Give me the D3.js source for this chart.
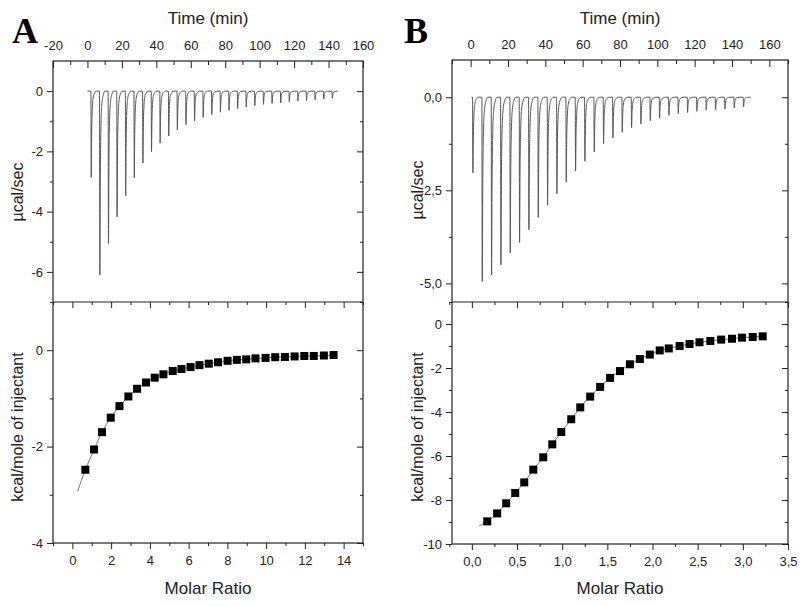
<!DOCTYPE html>
<html>
<head>
<meta charset="utf-8">
<script src="https://cdn.jsdelivr.net/npm/d3@7"></script>
<style>
  body { margin: 0; background: #fff; }
  svg text { font-family: Arial, "Liberation Sans", sans-serif; fill: #222; }
  .axis path, .axis line { stroke: #222; }
</style>
</head>
<body>
<svg id="chart" width="800" height="606"></svg>
<script>
// ---- panel A ----
const timeTicksA = [-20, 0, 20, 40, 60, 80, 100, 120, 140, 160];
const powerTicksA = [0, -2, -4, -6];
const ratioTicksA = [0, 2, 4, 6, 8, 10, 12, 14];
const heatTicksA = [0, -2, -4];

const injTimeA = [2, 7, 12, 17, 22, 27, 32, 37, 42, 47, 52, 57, 62, 67, 72, 77, 82, 87, 92, 97,
  102, 107, 112, 117, 122, 127, 132, 137, 142];
const peakA = [-2.86, -6.1, -5.06, -4.17, -3.47, -2.88, -2.39, -2.01, -1.73, -1.49, -1.29, -1.11,
  -0.99, -0.87, -0.78, -0.7, -0.64, -0.58, -0.53, -0.48, -0.44, -0.41, -0.39, -0.35, -0.33,
  -0.31, -0.29, -0.26, -0.24];
const baselineA = [0, 145];

const ratioA = [0.67, 1.12, 1.53, 1.98, 2.43, 2.89, 3.34, 3.8, 4.25, 4.7, 5.18, 5.63, 6.1, 6.56,
  7.04, 7.52, 8.01, 8.49, 8.97, 9.45, 9.97, 10.47, 10.97, 11.47, 11.97, 12.46, 12.98, 13.48];
const heatA = [-2.48, -2.06, -1.7, -1.4, -1.16, -0.96, -0.8, -0.67, -0.57, -0.5, -0.43, -0.39,
  -0.35, -0.31, -0.28, -0.25, -0.22, -0.2, -0.19, -0.17, -0.16, -0.145, -0.14, -0.13, -0.12,
  -0.12, -0.11, -0.1];
const fitStartA = [0.27, -2.93];

// ---- panel B ----
const timeTicksB = [0, 20, 40, 60, 80, 100, 120, 140, 160];
const powerTicksB = [0, -2.5, -5];
const ratioTicksB = [0, 0.5, 1, 1.5, 2, 2.5, 3, 3.5];
const heatTicksB = [0, -2, -4, -6, -8, -10];

const injTimeB = [1, 6, 11, 16, 21, 26, 31, 36, 41, 46, 51, 56, 61, 66, 71, 76, 81, 86, 91, 96,
  101, 106, 111, 116, 121, 126, 131, 136, 141, 146];
const peakB = [-2.03, -4.95, -4.77, -4.5, -4.18, -3.9, -3.56, -3.23, -2.9, -2.59, -2.28, -1.98,
  -1.72, -1.47, -1.25, -1.09, -0.94, -0.82, -0.72, -0.63, -0.56, -0.49, -0.44, -0.41, -0.38,
  -0.35, -0.33, -0.32, -0.29, -0.26];
const baselineB = [0.4, 150];

const ratioB = [0.17, 0.28, 0.38, 0.48, 0.58, 0.68, 0.79, 0.89, 0.99, 1.1, 1.2, 1.31, 1.42, 1.53,
  1.64, 1.75, 1.86, 1.97, 2.08, 2.18, 2.3, 2.41, 2.52, 2.64, 2.76, 2.88, 2.99, 3.11, 3.22];
const heatB = [-8.97, -8.61, -8.15, -7.68, -7.2, -6.62, -6.06, -5.47, -4.91, -4.33, -3.79, -3.3,
  -2.86, -2.45, -2.14, -1.83, -1.59, -1.39, -1.2, -1.11, -1.0, -0.91, -0.83, -0.77, -0.71,
  -0.67, -0.62, -0.59, -0.56];
const fitStartB = [0.08, -9.18];

// shape of one injection peak: [minutes after injection, fraction of peak]
const spikeShape = [[0, 0], [0.2, 1], [0.45, 0.5], [0.8, 0.22], [1.3, 0.08], [2.2, 0.02], [3.2, 0]];

const svg = d3.select('#chart');

function drawPanel(p) {
  const g = svg.append('g');

  const x = d3.scaleLinear().domain(p.timeDomain).range([p.left, p.right]);
  const yP = d3.scaleLinear().domain(p.powerDomain).range([p.mid, p.top]);
  const r = d3.scaleLinear().domain(p.ratioDomain).range([p.left, p.right]);
  const yH = d3.scaleLinear().domain(p.heatDomain).range([p.bottom, p.mid]);

  // frames
  g.append('rect').attr('x', p.left).attr('y', p.top)
    .attr('width', p.right - p.left).attr('height', p.bottom - p.top)
    .attr('fill', 'none').attr('stroke', '#222').attr('stroke-width', 1.2);
  g.append('line').attr('x1', p.left).attr('x2', p.right).attr('y1', p.mid).attr('y2', p.mid)
    .attr('stroke', '#222').attr('stroke-width', 1.2);

  const addAxis = (axis, tx, ty, labels) => {
    const a = g.append('g').attr('class', 'axis').attr('transform', `translate(${tx},${ty})`).call(axis);
    a.select('.domain').remove();
    a.selectAll('text').style('font-size', '13px');
    if (!labels) a.selectAll('text').remove();
    return a;
  };

  // top time axis
  addAxis(d3.axisTop(x).tickValues(p.timeTicks).tickSize(-7).tickPadding(11).tickFormat(d => String(d)), 0, p.top, true);
  addAxis(d3.axisTop(x).tickValues(p.timeMinor).tickSize(-4), 0, p.top, false);

  // power axes
  addAxis(d3.axisLeft(yP).tickValues(p.powerTicks).tickSize(6).tickPadding(4).tickFormat(p.powerFmt), p.left, 0, true);
  addAxis(d3.axisLeft(yP).tickValues(p.powerMinor).tickSize(3), p.left, 0, false);
  addAxis(d3.axisRight(yP).tickValues(p.powerTicks).tickSize(-6), p.right, 0, false);
  addAxis(d3.axisRight(yP).tickValues(p.powerMinor).tickSize(-3), p.right, 0, false);

  // heat axes
  addAxis(d3.axisLeft(yH).tickValues(p.heatTicks).tickSize(6).tickPadding(4).tickFormat(d => String(d)), p.left, 0, true);
  addAxis(d3.axisLeft(yH).tickValues(p.heatMinor).tickSize(3), p.left, 0, false);
  addAxis(d3.axisRight(yH).tickValues(p.heatTicks).tickSize(-6), p.right, 0, false);
  addAxis(d3.axisRight(yH).tickValues(p.heatMinor).tickSize(-3), p.right, 0, false);

  // molar ratio axes
  addAxis(d3.axisBottom(r).tickValues(p.ratioTicks).tickSize(6).tickPadding(7).tickFormat(p.ratioFmt), 0, p.bottom, true);
  addAxis(d3.axisBottom(r).tickValues(p.ratioMinor).tickSize(3), 0, p.bottom, false);
  addAxis(d3.axisTop(r).tickValues(p.ratioTicks).tickSize(-6), 0, p.mid, false);
  addAxis(d3.axisTop(r).tickValues(p.ratioMinor).tickSize(-3), 0, p.mid, false);

  // thermogram
  const pts = [[p.baseline[0], 0]];
  p.injTime.forEach((t, i) => {
    spikeShape.forEach(([dt, f]) => pts.push([t + dt, p.peak[i] * f]));
  });
  pts.push([p.baseline[1], 0]);
  g.append('path')
    .attr('d', d3.line().x(d => x(d[0])).y(d => yP(d[1])).curve(d3.curveMonotoneX)(pts))
    .attr('fill', 'none').attr('stroke', '#555').attr('stroke-width', 1);

  // fitted curve + points
  const pairs = p.ratio.map((v, i) => [v, p.heat[i]]);
  g.append('path')
    .attr('d', d3.line().x(d => r(d[0])).y(d => yH(d[1])).curve(d3.curveMonotoneX)([p.fitStart, ...pairs]))
    .attr('fill', 'none').attr('stroke', '#777').attr('stroke-width', 1);
  const s = 8;
  g.selectAll('rect.pt').data(pairs).join('rect')
    .attr('class', 'pt')
    .attr('x', d => r(d[0]) - s / 2).attr('y', d => yH(d[1]) - s / 2)
    .attr('width', s).attr('height', s).attr('fill', '#000');

  // titles
  const cx = (p.left + p.right) / 2;
  g.append('text').attr('x', cx).attr('y', 24).attr('text-anchor', 'middle')
    .style('font-size', '17px').text('Time (min)');
  g.append('text').attr('x', cx).attr('y', 594).attr('text-anchor', 'middle')
    .style('font-size', '17px').text('Molar Ratio');
  g.append('text').attr('transform', `translate(${p.labelX},${p.powerLabelY}) rotate(-90)`)
    .attr('text-anchor', 'middle').style('font-size', '16px').text('µcal/sec');
  g.append('text').attr('transform', `translate(${p.labelX},${p.heatLabelY}) rotate(-90)`)
    .attr('text-anchor', 'middle').style('font-size', '16px').text('kcal/mole of injectant');
  g.append('text').attr('x', p.letterX).attr('y', 43)
    .style('font-family', '"Liberation Serif", "Times New Roman", serif')
    .style('font-weight', 'bold').style('font-size', '36px').style('fill', '#000')
    .text(p.letter);
}

const comma = d => d.toFixed(1).replace('.', ',');

drawPanel({
  letter: 'A', letterX: 12, labelX: 23, powerLabelY: 192, heatLabelY: 427,
  left: 53, right: 363, top: 61, mid: 302, bottom: 543,
  timeDomain: [-20, 160], powerDomain: [-7, 1], ratioDomain: [-1, 15], heatDomain: [-4, 1],
  timeTicks: timeTicksA, timeMinor: d3.range(-10, 160, 20),
  powerTicks: powerTicksA, powerMinor: [-1, -3, -5, -7], powerFmt: d => String(d),
  ratioTicks: ratioTicksA, ratioMinor: d3.range(-1, 16, 2), ratioFmt: d => String(d),
  heatTicks: heatTicksA, heatMinor: [1, -1, -3],
  injTime: injTimeA, peak: peakA, baseline: baselineA,
  ratio: ratioA, heat: heatA, fitStart: fitStartA
});

drawPanel({
  letter: 'B', letterX: 404, labelX: 423, powerLabelY: 190, heatLabelY: 427,
  left: 452, right: 788, top: 60, mid: 302, bottom: 544,
  timeDomain: [-10, 170], powerDomain: [-5.5, 1], ratioDomain: [-0.22, 3.5], heatDomain: [-10, 1],
  timeTicks: timeTicksB, timeMinor: d3.range(-10, 171, 20),
  powerTicks: powerTicksB, powerMinor: [-1.25, -3.75], powerFmt: comma,
  ratioTicks: ratioTicksB, ratioMinor: d3.range(-0.25, 3.5, 0.5), ratioFmt: comma,
  heatTicks: heatTicksB, heatMinor: [1, -1, -3, -5, -7, -9],
  injTime: injTimeB, peak: peakB, baseline: baselineB,
  ratio: ratioB, heat: heatB, fitStart: fitStartB
});
</script>
</body>
</html>
